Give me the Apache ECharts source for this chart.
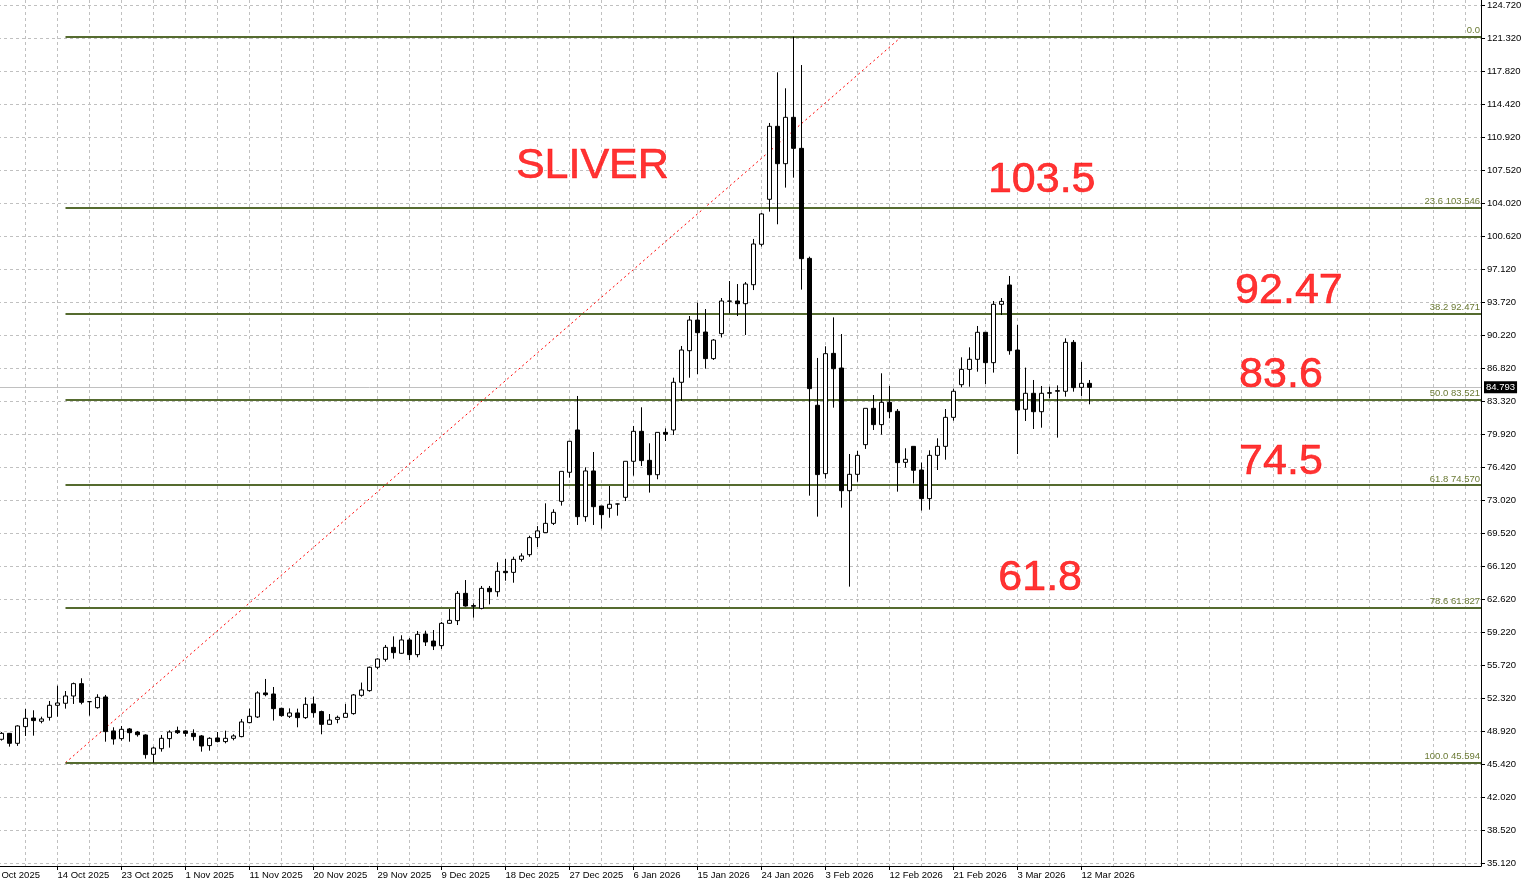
<!DOCTYPE html>
<html><head><meta charset="utf-8">
<script src="https://cdn.jsdelivr.net/npm/echarts@6/dist/echarts.min.js"></script>
<style>html,body{margin:0;padding:0;background:#fff;overflow:hidden}#c{width:1524px;height:887px}</style>
</head><body><div id="c"></div>
<script>
// ---- data (daily bars, index 0 = 6 Oct 2025) ----
const opens  = [48.04,48.66,47.62,49.36,50.26,49.92,50.33,51.59,51.80,52.56,53.85,51.97,51.34,52.46,48.91,48.11,49.12,48.80,48.49,46.47,
                47.06,48.11,48.94,48.91,48.66,48.39,47.38,48.18,47.80,48.14,48.32,49.78,50.37,52.88,52.77,51.27,50.44,50.79,50.30,51.73,
                50.93,49.60,50.12,50.33,50.72,52.63,53.12,55.56,56.39,57.64,57.02,58.41,56.88,59.03,58.30,57.82,60.15,60.43,63.28,62.00,
                61.71,63.80,63.45,65.58,65.47,66.83,67.32,69.10,69.62,70.59,72.89,75.92,80.34,71.29,76.06,72.40,72.16,72.61,73.31,77.07,
                80.20,77.17,75.67,80.09,80.34,85.32,88.62,91.82,90.57,87.79,90.40,93.78,93.81,93.53,95.51,99.73,104.43,112.05,108.15,112.99,
                109.75,98.26,82.92,75.78,88.34,86.81,74.00,75.71,78.81,82.60,80.90,83.23,82.29,76.96,78.63,76.16,73.17,77.69,78.63,81.66,
                85.07,86.67,87.72,90.54,87.37,93.46,95.48,88.69,82.50,84.17,82.25,84.17,84.38,84.38,89.49,84.79,85.21];
const closes = [48.66,47.62,49.43,50.23,49.99,50.16,51.59,51.83,52.56,53.85,51.90,51.97,52.42,48.84,48.07,49.08,48.73,48.52,46.44,47.13,
                48.14,48.80,48.73,48.66,48.32,47.34,48.14,47.80,48.14,48.39,49.85,50.44,52.88,52.70,51.24,50.51,50.79,50.30,51.69,50.82,
                49.60,50.05,50.33,50.75,52.67,53.19,55.56,56.42,57.64,57.09,58.41,56.88,59.00,58.20,57.78,60.15,60.46,63.28,61.96,61.93,
                63.80,63.45,65.58,65.44,66.83,67.18,69.10,69.80,70.59,71.74,76.02,79.16,71.29,76.06,72.33,71.50,72.58,72.61,77.07,80.20,
                77.14,75.67,80.09,79.89,85.32,88.69,91.82,90.50,87.79,89.73,93.81,93.81,93.53,95.58,99.76,102.90,112.05,108.15,112.99,109.75,
                98.23,84.66,75.68,88.31,86.74,74.00,75.71,77.69,82.60,80.90,83.23,82.25,76.93,77.28,76.13,73.17,77.69,78.63,81.66,84.38,
                86.67,87.72,90.54,87.37,93.46,93.77,88.62,82.43,84.17,82.25,84.17,84.24,84.45,89.49,84.76,85.21,84.793];
const lows   = [47.90,47.27,47.35,48.39,48.42,49.71,49.99,50.40,51.24,51.73,51.69,50.51,51.24,47.79,47.48,47.90,47.79,48.32,46.02,45.59,
                46.75,47.17,48.59,48.32,47.90,46.75,46.85,47.72,47.62,47.93,48.25,49.71,50.26,52.53,49.99,50.40,50.26,49.29,50.16,50.30,
                48.56,49.57,49.71,50.33,50.61,52.49,53.01,55.35,56.15,56.46,56.95,56.32,56.60,57.78,57.36,57.47,60.08,59.97,61.89,60.74,
                61.61,62.13,62.93,64.60,64.39,66.59,67.10,68.12,69.62,70.42,72.44,75.36,70.42,70.77,70.42,70.04,71.18,71.39,72.92,75.57,
                76.58,73.80,75.19,79.19,79.82,83.40,85.80,86.18,86.74,87.65,90.00,92.52,92.24,90.26,94.95,99.50,103.14,101.82,105.65,106.69,
                95.00,73.48,71.29,75.26,82.67,72.23,63.98,74.94,78.36,80.34,79.85,81.56,73.90,76.41,74.77,71.92,72.02,76.16,77.24,81.31,
                84.80,84.86,86.43,85.14,86.33,92.35,88.20,77.83,81.28,80.44,80.58,83.65,79.54,83.82,84.34,83.89,83.02];
const highs  = [48.80,48.70,49.50,51.21,51.07,50.40,52.04,53.64,53.08,53.96,54.41,52.00,52.74,52.67,49.29,49.43,49.22,48.91,48.56,47.27,
                48.49,48.98,49.36,48.98,49.08,48.49,48.25,48.80,48.94,48.56,50.16,51.24,53.05,54.34,53.50,51.34,51.27,51.24,52.42,52.49,
                51.03,50.68,50.51,51.73,52.77,53.96,55.63,56.50,57.89,58.79,58.90,58.62,59.35,59.38,59.45,60.29,61.64,63.52,64.67,62.24,
                64.05,64.05,66.52,66.87,67.11,67.46,69.30,70.30,72.68,72.06,76.02,79.16,83.89,76.44,78.04,72.40,74.49,72.65,77.07,80.76,
                82.71,78.95,80.09,80.51,85.80,89.11,92.24,93.63,92.97,89.84,94.12,95.89,95.58,95.79,100.29,103.00,112.40,117.69,116.02,121.41,
                118.45,98.44,87.86,89.08,92.10,90.36,77.83,78.15,82.60,83.99,86.26,84.94,82.53,78.43,78.63,76.93,78.22,79.47,82.53,84.66,
                87.93,88.97,91.20,90.54,93.81,94.12,96.42,91.30,86.85,85.56,84.93,84.86,85.00,89.91,89.73,87.44,85.56];

const yTickLabels = ['35.120','38.520','42.020','45.420','48.920','52.320','55.720','59.220','62.620','66.120','69.520','73.020','76.420',
                     '79.920','83.320','86.820','90.220','93.720','97.120','100.620','104.020','107.520','110.920','114.420','117.820','121.320','124.720'];
const xTickLabels = ['4 Oct 2025','14 Oct 2025','23 Oct 2025','1 Nov 2025','11 Nov 2025','20 Nov 2025','29 Nov 2025','9 Dec 2025','18 Dec 2025',
                     '27 Dec 2025','6 Jan 2026','15 Jan 2026','24 Jan 2026','3 Feb 2026','12 Feb 2026','21 Feb 2026','3 Mar 2026','12 Mar 2026'];
const xTickBars = [-1,7,15,23,31,39,47,55,63,71,79,87,95,103,111,119,127,135];

const fibLabels = ['0.0','23.6 103.546','38.2 92.471','50.0 83.521','61.8 74.570','78.6 61.827','100.0 45.594'];
const fibPrices = [121.447,103.546,92.471,83.521,74.570,61.827,45.594];
const fibStartBar = 8;
const trendBars = [8, 112.56];
const trendPrices = [45.594, 121.447];
const lastPrice = 84.793;

const noteTexts  = ['SLIVER','103.5','92.47','83.6','74.5','61.8'];
const noteBars   = [64.3, 123.3, 154.2, 154.7, 154.7, 124.6];
const noteValues = [107.86, 106.45, 94.80, 86.03, 77.03, 64.91];

// ---- axes geometry ----
const X_MIN = -1.1875, X_MAX = 184.9375;
const Y_MIN = 34.807, Y_MAX = 125.242;
const yLo = parseFloat(yTickLabels[0]), yHi = parseFloat(yTickLabels[yTickLabels.length-1]);
const yTickVals = yTickLabels.map((_, k) => yLo + k * (yHi - yLo) / (yTickLabels.length - 1));
const gridBars = [];
for (let b = -1; b <= 184; b += 4) gridBars.push(b);

const candles = opens.map((o, i) => [i, o, closes[i], lows[i], highs[i]]);
const AX_FONT = "'Liberation Sans', Arial, sans-serif";
const AX_SIZE = 9.5;

const chart = echarts.init(document.getElementById('c'), null, {renderer: 'canvas'});
chart.setOption({
  animation: false,
  backgroundColor: '#ffffff',
  grid: {left: -8, right: 43, top: 0, bottom: 21, containLabel: false, outerBoundsMode: 'none'},
  xAxis: [
    {type: 'value', min: X_MIN, max: X_MAX, position: 'bottom',
     axisLine: {show: true, onZero: false, lineStyle: {color: '#000', width: 1}},
     axisTick: {show: true, length: 4, customValues: xTickBars, lineStyle: {color: '#000'}},
     axisLabel: {show: true, customValues: xTickBars, align: 'left', margin: 4, fontSize: AX_SIZE, color: '#000', fontFamily: AX_FONT,
                 formatter: v => { const k = xTickBars.indexOf(Math.round(v)); return k >= 0 ? xTickLabels[k] : ''; }},
     splitLine: {show: false}},
    {type: 'value', min: X_MIN, max: X_MAX, position: 'bottom', show: true,
     axisLine: {show: false, onZero: false}, axisLabel: {show: false},
     axisTick: {show: false, customValues: gridBars},
     splitLine: {show: true, lineStyle: {color: '#c0c0c0', type: [3, 3], width: 1}}}
  ],
  yAxis: {type: 'value', min: Y_MIN, max: Y_MAX, position: 'right',
     axisLine: {show: true, onZero: false, lineStyle: {color: '#000', width: 1}},
     axisTick: {show: true, length: 4, customValues: yTickVals, lineStyle: {color: '#000'}},
     axisLabel: {show: true, customValues: yTickVals, margin: 6, fontSize: AX_SIZE, color: '#000', fontFamily: AX_FONT,
                 formatter: v => { let best = 0; yTickVals.forEach((t, k) => { if (Math.abs(t - v) < Math.abs(yTickVals[best] - v)) best = k; }); return yTickLabels[best]; }},
     splitLine: {show: true, lineStyle: {color: '#c0c0c0', type: [3, 3], width: 1}}},
  series: [
    {type: 'candlestick', xAxisIndex: 0, yAxisIndex: 0, barWidth: 4, data: candles, z: 5,
     itemStyle: {color: '#ffffff', color0: '#000000', borderColor: '#000000', borderColor0: '#000000', borderWidth: 1},
     markLine: {silent: true, symbol: ['none', 'none'], animation: false,
       data: [
         {yAxis: lastPrice, lineStyle: {color: '#c0c0c0', type: 'solid', width: 1},
          label: {show: true, position: 'end', distance: 3, formatter: lastPrice.toFixed(3), color: '#fff', backgroundColor: '#000',
                  padding: [1, 2, 1, 2], fontSize: AX_SIZE, fontFamily: AX_FONT}},
       ].concat(fibPrices.map((p, k) => [
         {coord: [fibStartBar, p], lineStyle: {color: '#556B2F', type: 'solid', width: 2},
          label: {show: true, position: 'insideEndTop', distance: 1, formatter: fibLabels[k], color: '#6B7A35', fontSize: AX_SIZE, fontFamily: AX_FONT}},
         {coord: [X_MAX, p]}
       ]))
     }},
    {type: 'line', xAxisIndex: 0, yAxisIndex: 0, data: trendBars.map((b, k) => [b, trendPrices[k]]), symbol: 'none', z: 3,
     lineStyle: {color: '#ff0000', type: [2, 3], width: 1}},
    {type: 'scatter', xAxisIndex: 0, yAxisIndex: 0, symbolSize: 0, z: 10,
     data: noteBars.map((b, k) => [b, noteValues[k]]),
     label: {show: true, position: 'right', distance: 0, formatter: p => noteTexts[p.dataIndex],
             color: '#ff0000', textBorderColor: '#ff0000', textBorderWidth: 0.6,
             fontSize: 43, fontFamily: "'Liberation Sans', Arial, sans-serif"}}
  ]
});
</script></body></html>
